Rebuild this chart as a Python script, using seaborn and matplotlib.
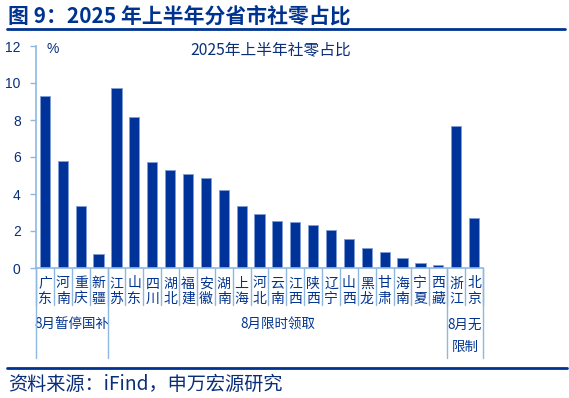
import numpy as np
import pandas as pd
import seaborn as sns
import matplotlib
matplotlib.use("Agg")
import matplotlib.pyplot as plt
from matplotlib.transforms import blended_transform_factory
from matplotlib.lines import Line2D

# ---------------- data ----------------
provinces = ["广东", "河南", "重庆", "新疆", "江苏", "山东", "四川", "湖北", "福建", "安徽",
             "湖南", "上海", "河北", "云南", "江西", "陕西", "辽宁", "山西", "黑龙", "甘肃",
             "海南", "宁夏", "西藏", "浙江", "北京"]
share = [9.30, 5.76, 3.35, 0.76, 9.73, 8.16, 5.73, 5.30, 5.08, 4.88,
         4.20, 3.33, 2.94, 2.54, 2.47, 2.32, 2.07, 1.55, 1.08, 0.86,
         0.52, 0.27, 0.18, 7.69, 2.72]
group_names = ["8月暂停国补", "8月限时领取", "8月无\n限制"]
group_sizes = [4, 19, 2]
y_ticks = [0, 2, 4, 6, 8, 10, 12]

chart_title = "2025年上半年社零占比"
header = "图 9：2025 年上半年分省市社零占比"
source = "资料来源：iFind，申万宏源研究"

df = pd.DataFrame({"province": provinces, "share": share})

# ---------------- style ----------------
sns.set_style("white")
CJK = ["Noto Sans CJK SC", "DejaVu Sans"]
plt.rcParams["font.family"] = CJK

W, H = 569, 398
NAVY = "#00338f"
BAR = "#003399"
LIGHT = "#8fb8e0"
TXT = "#0a2f7a"

fig = plt.figure(figsize=(W / 100, H / 100), dpi=100)

def fx(px):
    return px / W

def fy(py):
    return 1 - py / H

ax_left, ax_right, ax_top, ax_bot = 36, 483, 46, 268
ax = fig.add_axes([fx(ax_left), fy(ax_bot), fx(ax_right - ax_left), (ax_bot - ax_top) / H])

sns.barplot(data=df, x="province", y="share", color=BAR, saturation=1, width=0.57,
            edgecolor="#7f9fd6", linewidth=0.6, ax=ax)

ax.set_xlim(-0.5, len(provinces) - 0.5)
ax.set_ylim(0, 12)
ax.set_yticks(y_ticks)
ax.set_yticklabels([str(t) for t in y_ticks], family=["Liberation Sans"], fontsize=10, color=TXT)
ax.tick_params(axis="y", length=4, width=1, color=LIGHT, pad=7, left=True)
ax.tick_params(axis="x", length=0, labelbottom=False)
ax.set_xlabel("")
ax.set_ylabel("")
for s in ["top", "right"]:
    ax.spines[s].set_visible(False)
for s in ["left", "bottom"]:
    ax.spines[s].set_color(LIGHT)
    ax.spines[s].set_linewidth(1.2)

# chart title and unit
ax.text(0.525, 0.985, chart_title, transform=ax.transAxes, ha="center", va="center",
        fontsize=11.3, color=TXT)
fig.text(fx(53), fy(49), "%", ha="center", va="center", fontsize=10, color=TXT,
         family=["Liberation Sans"])

# category labels (two stacked characters)
bt = blended_transform_factory(ax.transData, fig.transFigure)
for i, name in enumerate(provinces):
    ax.text(i, fy(283.5), name[0], transform=bt, ha="center", va="center",
            fontsize=10, color=NAVY, clip_on=False)
    ax.text(i, fy(298.5), name[1], transform=bt, ha="center", va="center",
            fontsize=10, color=NAVY, clip_on=False)

# separators between categories
for i in range(len(provinces) + 1):
    fig.add_artist(Line2D([i - 0.5, i - 0.5], [fy(268), fy(305)], transform=bt,
                          color=LIGHT, lw=1))

# group labels and separators
start = 0
bounds = [0]
for gname, gsize in zip(group_names, group_sizes):
    end = start + gsize
    center = (start + end - 1) / 2
    lines = gname.split("\n")
    for k, line in enumerate(lines):
        ax.text(center, fy(325 + 22 * k), line, transform=bt, ha="center", va="center",
                fontsize=9.7, color=NAVY, clip_on=False)
    bounds.append(end)
    start = end
for b in bounds:
    fig.add_artist(Line2D([b - 0.5, b - 0.5], [fy(268), fy(358)], transform=bt,
                          color=LIGHT, lw=1))

# header and footer
fig.text(fx(8), fy(16), header, ha="left", va="center", fontsize=15,
         fontweight="bold", color=NAVY)
fig.add_artist(Line2D([fx(7), fx(565)], [fy(28.5), fy(28.5)], color=NAVY, lw=2))
fig.add_artist(Line2D([fx(7), fx(567)], [fy(367.5), fy(367.5)], color=NAVY, lw=2))
fig.text(fx(8), fy(384), source, ha="left", va="center", fontsize=13.8, color=TXT)

fig.savefig("out.png", dpi=100)
